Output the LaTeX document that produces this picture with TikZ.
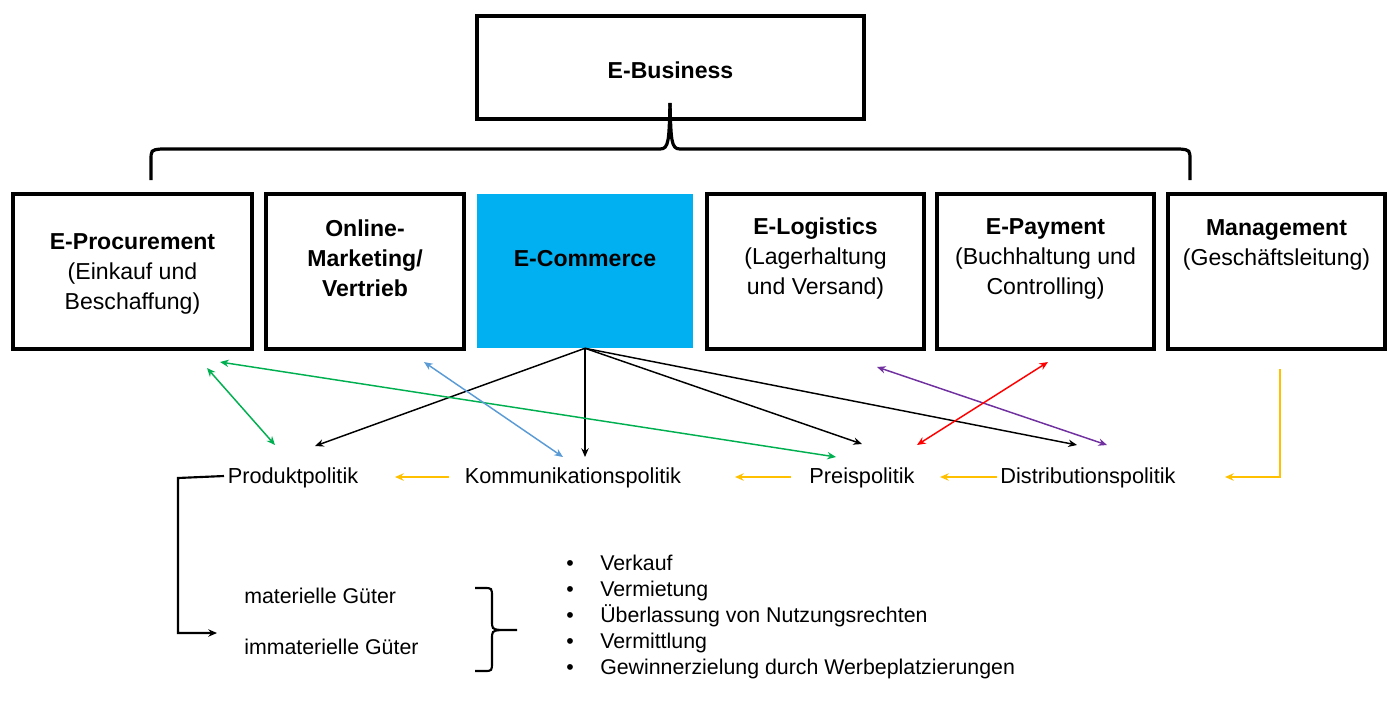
\documentclass[tikz,border=0pt]{standalone}
\usepackage{fontspec}
\setmainfont{Liberation Sans}
\usetikzlibrary{arrows.meta}
\definecolor{ecblue}{HTML}{00B0F0}
\definecolor{ygold}{HTML}{FFC000}
\definecolor{ggreen}{HTML}{00B050}
\definecolor{lblue}{HTML}{5B9BD5}
\definecolor{purp}{HTML}{7030A0}
\definecolor{rred}{HTML}{FF0000}
\begin{document}
\begin{tikzpicture}[x=0.75pt,y=-0.75pt,
  box/.style={draw,line width=2.3pt,inner sep=0pt},
  btxt/.style={align=center,inner sep=0pt,font=\fontsize{17.3pt}{22.5pt}\selectfont},
  ltxt/.style={inner sep=0pt,font=\fontsize{16.3pt}{20pt}\selectfont},
  stxt/.style={inner sep=0pt,font=\fontsize{16pt}{20pt}\selectfont},
  barrow/.style={line width=1.1pt,-{Stealth[length=6.5pt,width=5.5pt]}},
  darrow/.style={line width=1.1pt,{Stealth[length=6.5pt,width=5.5pt]}-{Stealth[length=6.5pt,width=5.5pt]}},
  yarrow/.style={ygold,line width=1.6pt,-{Stealth[length=6.5pt,width=5.5pt]}}]
\useasboundingbox (0,0) rectangle (1389,708);
% top box
\node[box,minimum width=387*0.75pt,minimum height=103*0.75pt] (ebiz) at (670.5,67.5) {};
\node[btxt] (ebizT) at (670.5,70) {\textbf{E-Business}};
% second row boxes
\node[box,minimum width=239*0.75pt,minimum height=155*0.75pt] (proc) at (132.5,271.5) {};
\node[box,minimum width=198*0.75pt,minimum height=155*0.75pt] (onl) at (365,271.5) {};
\node[fill=ecblue,inner sep=0pt,minimum width=216*0.75pt,minimum height=154*0.75pt] (ecom) at (585,271) {};
\node[box,minimum width=217*0.75pt,minimum height=155*0.75pt] (logi) at (815.5,271.5) {};
\node[box,minimum width=217*0.75pt,minimum height=155*0.75pt] (pay) at (1045.5,271.5) {};
\node[box,minimum width=217*0.75pt,minimum height=155*0.75pt] (mgmt) at (1276.5,271.5) {};
\node[btxt] (procT) at (132.5,273.5) {\textbf{E-Procurement}\\(Einkauf und\\Beschaffung)};
\node[btxt] (onlT) at (365,258.5) {\textbf{Online-}\\\textbf{Marketing/}\\\textbf{Vertrieb}};
\node[btxt] (ecomT) at (585,259) {\textbf{E-Commerce}};
\node[btxt] (logiT) at (815.5,259) {\textbf{E-Logistics}\\(Lagerhaltung\\und Versand)};
\node[btxt] (payT) at (1045.5,259) {\textbf{E-Payment}\\(Buchhaltung und\\Controlling)};
\node[btxt] (mgmtT) at (1276.5,244.5) {\textbf{Management}\\(Geschäftsleitung)};
% big brace
\draw[line width=2.4pt] (151,180) -- (151,161) .. controls (151,150) .. (161,149) -- (660,149)
  .. controls (669,149) and (669,140) .. (670,103);
\draw[line width=2.4pt] (670,103) .. controls (671,140) and (671,149) .. (680,149) -- (1180,149)
  .. controls (1190,150) .. (1190,161) -- (1190,180);
% policy labels
\node[ltxt] (prod) at (293,478) {Produktpolitik};
\node[ltxt] (kom) at (573,478) {Kommunikationspolitik};
\node[ltxt] (preis) at (862,478) {Preispolitik};
\node[ltxt] (dist) at (1088,478) {Distributionspolitik};
% black arrows from E-Commerce
\coordinate (bA) at (315,446);
\coordinate (bB) at (585,457);
\coordinate (bC) at (862,444);
\coordinate (bD) at (1077,445);
\draw[barrow] (ecom.south) -- (bA);
\draw[barrow] (ecom.south) -- (bB);
\draw[barrow] (ecom.south) -- (bC);
\draw[barrow] (ecom.south) -- (bD);
% coloured double arrows
\coordinate (g1a) at (207,368); \coordinate (g1b) at (275,445);
\coordinate (g2a) at (220,362); \coordinate (g2b) at (836,457);
\coordinate (l1a) at (424,362); \coordinate (l1b) at (563,457);
\coordinate (p1a) at (877,367); \coordinate (p1b) at (1107,445);
\coordinate (r1a) at (1048,362); \coordinate (r1b) at (917,445);
\draw[darrow,ggreen] (g1a) -- (g1b);
\draw[darrow,ggreen] (g2a) -- (g2b);
\draw[darrow,lblue] (l1a) -- (l1b);
\draw[darrow,purp] (p1a) -- (p1b);
\draw[darrow,rred] (r1a) -- (r1b);
% yellow arrows
\coordinate (y1a) at (449,477); \coordinate (y1b) at (395,477);
\coordinate (y2a) at (791,477); \coordinate (y2b) at (735,477);
\coordinate (y3a) at (997,477); \coordinate (y3b) at (940,477);
\coordinate (y4a) at (1280,369); \coordinate (y4b) at (1225,477);
\draw[yarrow] (y1a) -- (y1b);
\draw[yarrow] (y2a) -- (y2b);
\draw[yarrow] (y3a) -- (y3b);
\draw[yarrow] (y4a) |- (y4b);
% Produktpolitik bracket
\node[stxt,anchor=base west] (mat) at (244,603) {materielle Güter};
\node[stxt,anchor=base west] (immat) at (244,654) {immaterielle Güter};
\coordinate (pk1) at (224,476);
\coordinate (pk2) at (217,633);
\draw[line width=1.6pt,-{Stealth[length=6.5pt,width=5.5pt]}] (pk1) -- (178,478) -- (178,633) -- (pk2);
% small brace
\draw[line width=1.6pt] (475,588) -- (484,588) .. controls (492,588) .. (492,597) -- (492,620)
  .. controls (492,629) .. (500,630) -- (517,630);
\draw[line width=1.6pt] (500,630) .. controls (492,631) .. (492,640) -- (492,662)
  .. controls (492,671) .. (484,671) -- (475,671);
% bullet list
\foreach \y/\t [count=\i] in {570/Verkauf,596/Vermietung,622/Überlassung von Nutzungsrechten,648/Vermittlung,674/Gewinnerzielung durch Werbeplatzierungen}{
  \node[stxt,anchor=base] (bul\i) at (570,\y) {\textbullet};
  \node[stxt,anchor=base west] (it\i) at (600,\y) {\t};
}
\end{tikzpicture}
\end{document}
